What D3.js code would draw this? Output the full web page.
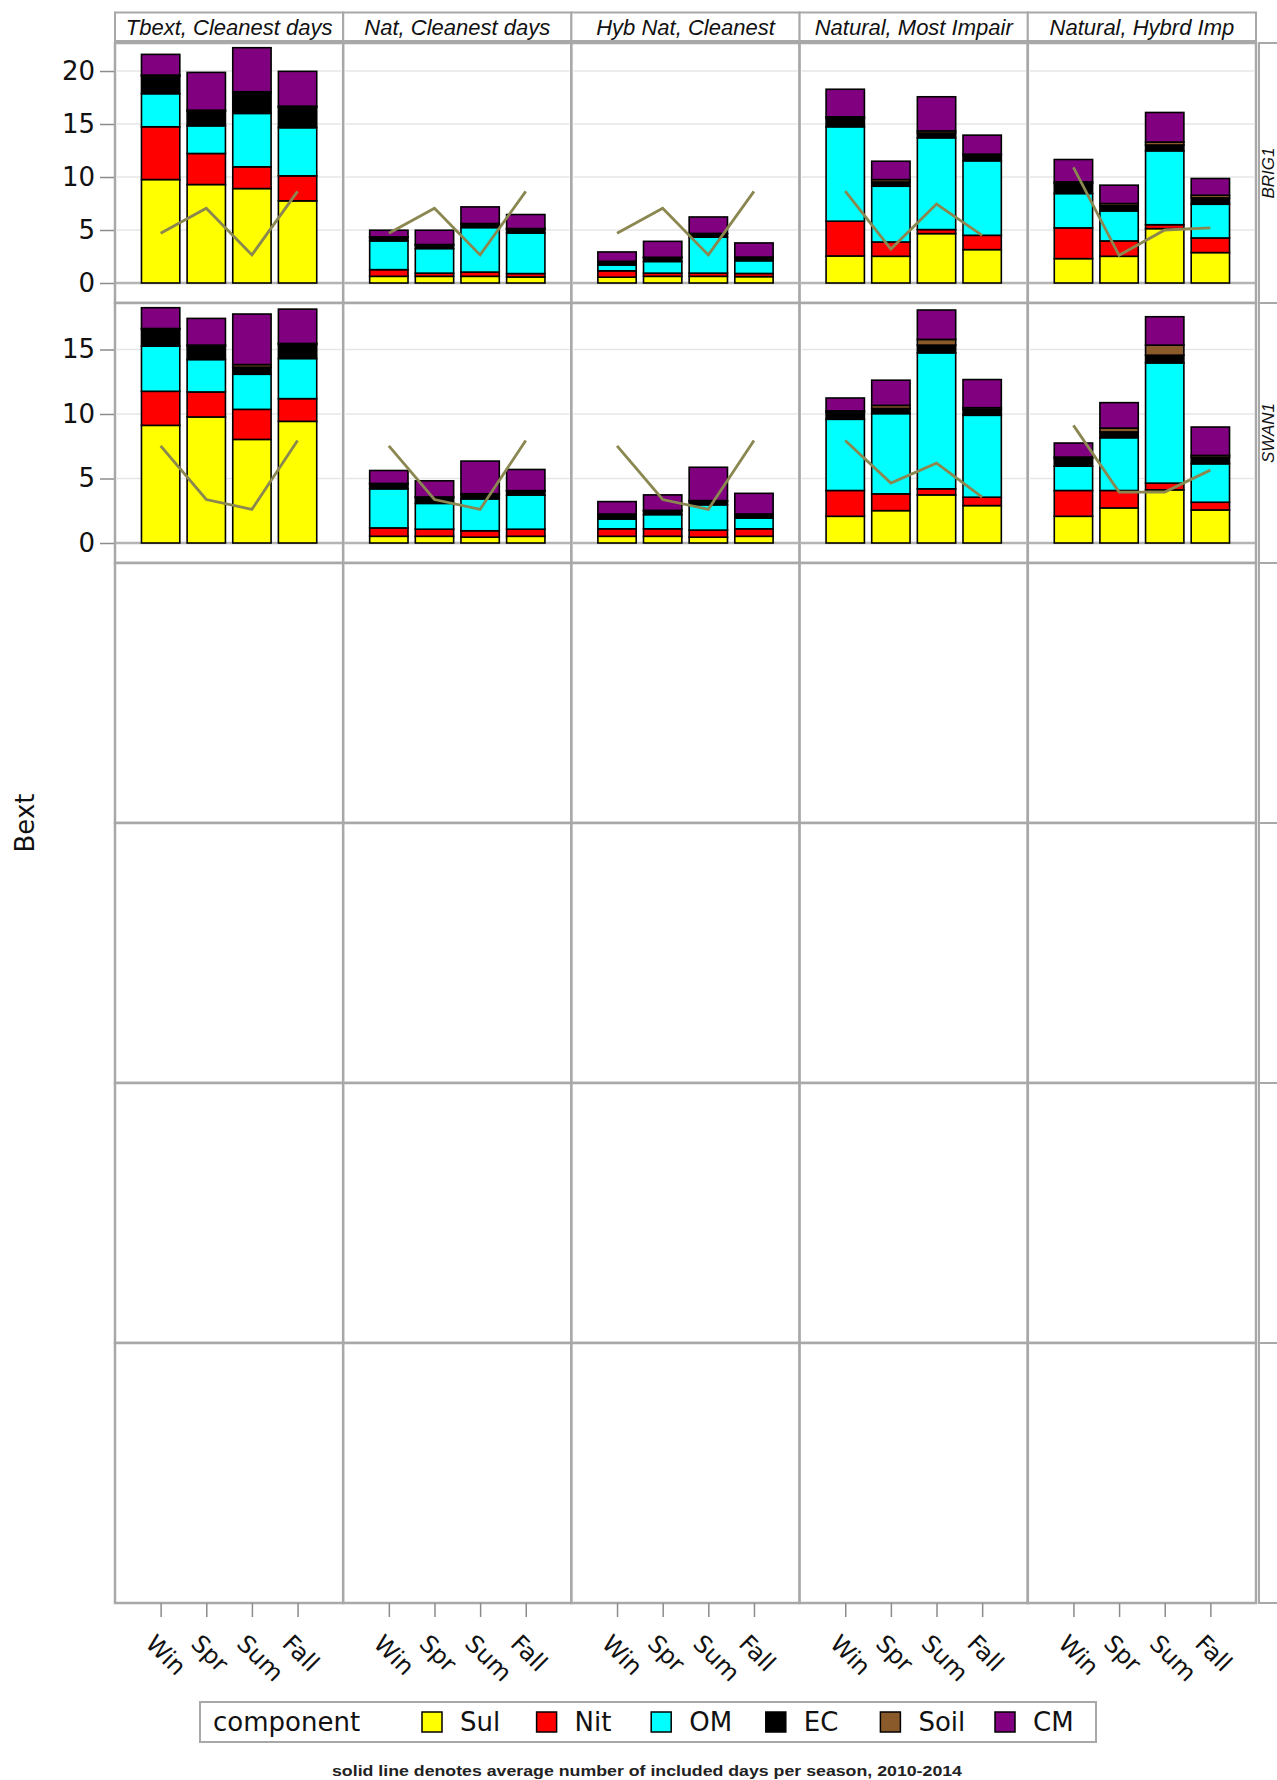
<!DOCTYPE html>
<html>
<head>
<meta charset="utf-8">
<script src="https://cdn.jsdelivr.net/npm/d3@7"></script>
<style>
  body { margin: 0; background: #fff; }
  svg { display: block; }
</style>
</head>
<body>
<svg id="chart" width="1277" height="1780"></svg>
<script>
// ---- data ---------------------------------------------------------------
const seasons = ["Win", "Spr", "Sum", "Fall"];
const panelTitles = ["Tbext, Cleanest days", "Nat, Cleanest days", "Hyb Nat, Cleanest",
                     "Natural, Most Impair", "Natural, Hybrd Imp"];
const sites = ["BRIG1", "SWAN1"];
const components = ["Sul", "Nit", "OM", "EC", "Soil", "CM"];
const componentColors = ["#ffff00", "#ff0000", "#00ffff", "#000000", "#8b5a2b", "#800080"];
const yTicksBRIG1 = [0, 5, 10, 15, 20];
const yTicksSWAN1 = [0, 5, 10, 15];

// one inner array per panel column, values in season order (Win, Spr, Sum, Fall)
const BRIG1_Sul  = [[9.76, 9.29, 8.91, 7.75], [0.63, 0.63, 0.63, 0.57], [0.55, 0.63, 0.63, 0.6], [2.55, 2.52, 4.66, 3.15], [2.3, 2.52, 5.13, 2.87]];
const BRIG1_Nit  = [[4.98, 2.93, 2.05, 2.36], [0.63, 0.3, 0.4, 0.32], [0.6, 0.3, 0.3, 0.3], [3.28, 1.35, 0.38, 1.35], [2.9, 1.45, 0.37, 1.38]];
const BRIG1_OM   = [[3.12, 2.61, 5.04, 4.54], [2.71, 2.32, 4.2, 3.83], [0.55, 1.1, 3.4, 1.2], [8.91, 5.26, 8.66, 7.03], [3.24, 2.83, 6.97, 3.18]];
const BRIG1_EC   = [[1.66, 1.38, 1.95, 1.94], [0.34, 0.34, 0.34, 0.38], [0.31, 0.36, 0.31, 0.31], [0.8, 0.4, 0.45, 0.5], [0.95, 0.5, 0.55, 0.6]];
const BRIG1_Soil = [[0.1, 0.1, 0.1, 0.1], [0.04, 0.04, 0.04, 0.04], [0.04, 0.04, 0.04, 0.04], [0.14, 0.23, 0.2, 0.13], [0.15, 0.2, 0.28, 0.25]];
const BRIG1_CM   = [[1.95, 3.56, 4.15, 3.28], [0.63, 1.35, 1.57, 1.32], [0.88, 1.5, 1.55, 1.33], [2.6, 1.73, 3.22, 1.79], [2.11, 1.73, 2.79, 1.58]];
const BRIG1_days = [[4.7, 7.05, 2.65, 8.65], [4.7, 7.05, 2.65, 8.65], [4.7, 7.05, 2.65, 8.65], [8.66, 3.2, 7.45, 4.5], [10.9, 2.61, 5.0, 5.2]];

const SWAN1_Sul  = [[9.12, 9.77, 8.03, 9.43], [0.52, 0.52, 0.45, 0.52], [0.52, 0.52, 0.45, 0.52], [2.07, 2.51, 3.73, 2.9], [2.07, 2.72, 4.12, 2.56]];
const SWAN1_Nit  = [[2.64, 1.94, 2.33, 1.76], [0.65, 0.55, 0.5, 0.55], [0.58, 0.58, 0.55, 0.58], [2.0, 1.3, 0.47, 0.65], [2.0, 1.35, 0.52, 0.6]];
const SWAN1_OM   = [[3.5, 2.51, 2.72, 3.11], [3.03, 2.0, 2.47, 2.65], [0.76, 1.1, 1.96, 0.84], [5.52, 6.22, 10.54, 6.35], [1.89, 4.09, 9.32, 2.98]];
const SWAN1_EC   = [[1.3, 1.05, 0.55, 1.1], [0.38, 0.45, 0.35, 0.3], [0.35, 0.3, 0.25, 0.27], [0.55, 0.4, 0.6, 0.45], [0.6, 0.45, 0.6, 0.5]];
const SWAN1_Soil = [[0.07, 0.07, 0.2, 0.07], [0.04, 0.05, 0.05, 0.04], [0.04, 0.03, 0.08, 0.04], [0.1, 0.24, 0.44, 0.14], [0.1, 0.3, 0.78, 0.15]];
const SWAN1_CM   = [[1.61, 2.07, 3.92, 2.66], [1.0, 1.25, 2.53, 1.64], [0.96, 1.2, 2.58, 1.6], [1.0, 1.95, 2.28, 2.18], [1.09, 1.97, 2.2, 2.2]];
const SWAN1_days = [[7.53, 3.37, 2.61, 7.95], [7.53, 3.37, 2.61, 7.95], [7.53, 3.37, 2.61, 7.95], [7.95, 4.64, 6.19, 3.55], [9.12, 3.95, 3.95, 5.65]];

const footnote = "solid line denotes average number of included days per season, 2010-2014";

// ---- assemble per-site lookups --------------------------------------------
const siteRows = [
  { site: sites[0], ticks: yTicksBRIG1, days: BRIG1_days,
    comp: { Sul: BRIG1_Sul, Nit: BRIG1_Nit, OM: BRIG1_OM, EC: BRIG1_EC, Soil: BRIG1_Soil, CM: BRIG1_CM } },
  { site: sites[1], ticks: yTicksSWAN1, days: SWAN1_days,
    comp: { Sul: SWAN1_Sul, Nit: SWAN1_Nit, OM: SWAN1_OM, EC: SWAN1_EC, Soil: SWAN1_Soil, CM: SWAN1_CM } }
];

// ---- layout -------------------------------------------------------------
const plotLeft = 115, colW = 228.2, nCols = panelTitles.length;
const plotTop = 43, rowH = 260, nRows = 6;
const plotRight = plotLeft + colW * nCols;
const plotBottom = plotTop + rowH * nRows;
const frameColor = "#a8a8a8";
const lineColor = "#8a8750";
const uiFont = "'DejaVu Sans', Verdana, sans-serif";
const stripFont = "'Liberation Sans', Arial, sans-serif";

const svg = d3.select("#chart");
const color = d3.scaleOrdinal().domain(components).range(componentColors);
const x = d3.scalePoint().domain(seasons).range([0, colW]).padding(1);
const barW = x.step() * 0.84;

// column header strips
const head = svg.append("g");
panelTitles.forEach((t, c) => {
  const x0 = plotLeft + c * colW;
  head.append("rect").attr("x", x0).attr("y", 12.5).attr("width", colW).attr("height", 28.5)
    .attr("fill", "#fff").attr("stroke", frameColor).attr("stroke-width", 2);
  head.append("text").attr("x", x0 + colW / 2).attr("y", 27)
    .attr("text-anchor", "middle").attr("dominant-baseline", "central")
    .attr("font-family", stripFont).attr("font-style", "italic").attr("font-size", 22)
    .attr("fill", "#111").text(t);
});

// panel frames and row strips
for (let r = 0; r < nRows; r++) {
  const y0 = plotTop + r * rowH;
  for (let c = 0; c < nCols; c++) {
    svg.append("rect").attr("x", plotLeft + c * colW).attr("y", y0)
      .attr("width", colW).attr("height", rowH)
      .attr("fill", "#fff").attr("stroke", frameColor).attr("stroke-width", 2.5);
  }
  svg.append("rect").attr("x", plotRight + 3).attr("y", y0).attr("width", 40).attr("height", rowH)
    .attr("fill", "#fff").attr("stroke", frameColor).attr("stroke-width", 2);
  const info = siteRows[r];
  if (info) {
    svg.append("text")
      .attr("transform", `translate(${plotRight + 12},${y0 + rowH / 2}) rotate(-90)`)
      .attr("text-anchor", "middle").attr("dominant-baseline", "central")
      .attr("font-family", stripFont).attr("font-style", "italic").attr("font-size", 17)
      .attr("fill", "#111").text(info.site);
  }
}

// data rows
siteRows.forEach((info, r) => {
  const y0 = plotTop + r * rowH;
  const stacks = d3.range(nCols).map(c => {
    const table = seasons.map((s, i) => {
      const o = { season: s };
      components.forEach(k => { o[k] = info.comp[k][c][i]; });
      return o;
    });
    return d3.stack().keys(components)(table);
  });
  const maxV = d3.max(stacks, st => d3.max(st[st.length - 1], d => d[1]));
  const y = d3.scaleLinear().domain([0, maxV]).range([y0 + rowH - 20, y0 + 4.7]);

  // horizontal grid
  for (let c = 0; c < nCols; c++) {
    const x0 = plotLeft + c * colW;
    svg.append("g").selectAll("line").data(info.ticks.filter(v => v > 0)).join("line")
      .attr("x1", x0 + 2).attr("x2", x0 + colW - 2)
      .attr("y1", d => y(d)).attr("y2", d => y(d))
      .attr("stroke", "#e6e6e6").attr("stroke-width", 1.5);
    svg.append("line").attr("x1", x0 + 1).attr("x2", x0 + colW - 1)
      .attr("y1", y(0)).attr("y2", y(0))
      .attr("stroke", "#b4b4b4").attr("stroke-width", 2.5);
  }

  // y axis
  const ax = svg.append("g").attr("transform", `translate(${plotLeft - 1},0)`)
    .call(d3.axisLeft(y).tickValues(info.ticks).tickSize(14).tickPadding(5).tickFormat(d3.format("d")));
  ax.select(".domain").remove();
  ax.selectAll(".tick line").attr("stroke", "#8c8c8c").attr("stroke-width", 1.5);
  ax.selectAll(".tick text").attr("font-family", uiFont).attr("font-size", 26).attr("fill", "#111");

  // stacked bars and the days line in every panel
  stacks.forEach((st, c) => {
    const g = svg.append("g").attr("transform", `translate(${plotLeft + c * colW},0)`);
    g.selectAll("g.layer").data(st).join("g").attr("class", "layer")
      .attr("fill", d => color(d.key))
      .selectAll("rect").data(d => d).join("rect")
      .attr("x", d => x(d.data.season) - barW / 2)
      .attr("width", barW)
      .attr("y", d => y(d[1]))
      .attr("height", d => Math.max(0, y(d[0]) - y(d[1])))
      .attr("stroke", "#000").attr("stroke-width", 1.6);

    const line = d3.line().x((d, i) => x(seasons[i])).y(d => y(d));
    g.append("path").attr("d", line(info.days[c]))
      .attr("fill", "none").attr("stroke", lineColor).attr("stroke-width", 2.8)
      .attr("stroke-linejoin", "miter");
  });
});

// bottom category axes
for (let c = 0; c < nCols; c++) {
  const g = svg.append("g").attr("transform", `translate(${plotLeft + c * colW},${plotBottom})`)
    .call(d3.axisBottom(x).tickSize(14).tickFormat(""));
  g.select(".domain").remove();
  g.selectAll(".tick line").attr("stroke", "#8c8c8c").attr("stroke-width", 1.5);
  g.selectAll(".tick").append("text")
    .attr("transform", "translate(-17,42) rotate(45)")
    .attr("text-anchor", "start").attr("fill", "#111")
    .attr("font-family", uiFont).attr("font-size", 24)
    .text(d => d);
}

// y axis title
svg.append("text").attr("transform", `translate(25,${(plotTop + plotBottom) / 2}) rotate(-90)`)
  .attr("text-anchor", "middle").attr("dominant-baseline", "central")
  .attr("font-family", uiFont).attr("font-size", 26).attr("fill", "#111").text("Bext");

// legend
const lg = svg.append("g");
lg.append("rect").attr("x", 200).attr("y", 1702).attr("width", 896).attr("height", 40)
  .attr("fill", "#fff").attr("stroke", frameColor).attr("stroke-width", 2);
lg.append("text").attr("x", 213).attr("y", 1722).attr("dominant-baseline", "central")
  .attr("font-family", uiFont).attr("font-size", 26).attr("fill", "#111").text("component");
const legendX = d3.scalePoint().domain(components).range([422, 995]);
const item = lg.selectAll("g.item").data(components).join("g").attr("class", "item")
  .attr("transform", d => `translate(${legendX(d)},1722)`);
item.append("rect").attr("x", 0).attr("y", -10).attr("width", 20).attr("height", 20)
  .attr("fill", d => color(d)).attr("stroke", "#000").attr("stroke-width", 1.5);
item.append("text").attr("x", 38).attr("y", 0).attr("dominant-baseline", "central")
  .attr("font-family", uiFont).attr("font-size", 26).attr("fill", "#111").text(d => d);

// footnote
svg.append("text").attr("x", 647).attr("y", 1770).attr("text-anchor", "middle")
  .attr("dominant-baseline", "central")
  .attr("font-family", stripFont).attr("font-size", 15.5).attr("font-weight", "bold").attr("fill", "#222")
  .attr("textLength", 630).attr("lengthAdjust", "spacingAndGlyphs")
  .text(footnote);
</script>
</body>
</html>
